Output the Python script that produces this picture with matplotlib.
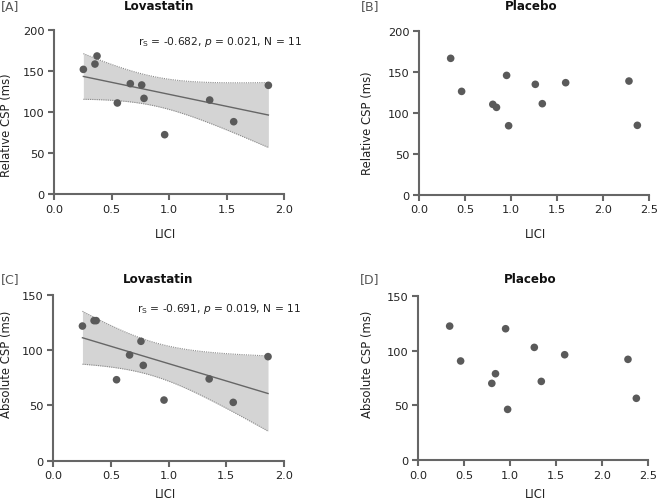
import numpy as np
import matplotlib
matplotlib.use("Agg")
import matplotlib.pyplot as plt

# -------------------------------
# Data
# -------------------------------

lova_lici = [0.253, 0.354, 0.372, 0.549, 0.662, 0.761, 0.781, 0.961, 1.353, 1.562, 1.864]
lova_rel_csp = [151.7, 158.2, 168.0, 110.8, 134.3, 132.7, 116.4, 72.2, 114.4, 88.0, 132.3]
lova_abs_csp = [121.9, 126.8, 126.8, 73.3, 95.7, 108.1, 86.3, 54.9, 74.0, 52.8, 94.2]

plac_lici = [0.341, 0.460, 0.799, 0.839, 0.949, 0.971, 1.261, 1.337, 1.591, 2.279, 2.370]
plac_rel_csp = [166.3, 126.0, 110.2, 106.5, 145.5, 84.1, 134.6, 111.0, 136.6, 138.6, 84.6]
plac_abs_csp = [122.3, 90.5, 70.1, 78.9, 119.9, 46.4, 102.9, 71.9, 96.2, 92.0, 56.5]

stats_rel = "r$_\\mathrm{S}$ = -0.682, $\\it{p}$ = 0.021, N = 11"
stats_abs = "r$_\\mathrm{S}$ = -0.691, $\\it{p}$ = 0.019, N = 11"

GREY = "#5a5a5a"
SPINE = "#666666"
TXT = "#222222"
T_975_DF9 = 2.262  # t critical value, 95% CI, n-2 = 9

plt.rcParams["font.family"] = ["DejaVu Sans"]
plt.rcParams["mathtext.fontset"] = "dejavusans"

fig = plt.figure(figsize=(6.6, 5.02), dpi=100)
W, H = 660.0, 502.0


def make_axes(x0, x1, ytop, ybot):
    return fig.add_axes([x0 / W, 1 - ybot / H, (x1 - x0) / W, (ybot - ytop) / H])


def ftext(x, y, s, **kw):
    return fig.text(x / W, 1 - y / H, s, **kw)


def style(ax, xmax, ymax, ystep):
    ax.set_xlim(0, xmax)
    ax.set_ylim(0, ymax)
    xt = np.arange(0, xmax + 0.01, 0.5)
    ax.set_xticks(xt)
    ax.set_xticklabels([f"{v:.1f}" for v in xt])
    ax.set_yticks(np.arange(0, ymax + 1, ystep))
    for s in ["top", "right"]:
        ax.spines[s].set_visible(False)
    for s in ["left", "bottom"]:
        ax.spines[s].set_color(SPINE)
        ax.spines[s].set_linewidth(1.5)
    ax.tick_params(colors=SPINE, labelcolor=TXT, width=1.5, length=4, labelsize=8.2, pad=3)
    ax.patch.set_alpha(0)


def fit_band(ax, x, y):
    x = np.array(x)
    y = np.array(y)
    n = len(x)
    b, a = np.polyfit(x, y, 1)
    xs = np.linspace(x.min(), x.max(), 100)
    yhat = a + b * xs
    resid = y - (a + b * x)
    s = np.sqrt(np.sum(resid ** 2) / (n - 2))
    se = s * np.sqrt(1 / n + (xs - x.mean()) ** 2 / np.sum((x - x.mean()) ** 2))
    lo = yhat - T_975_DF9 * se
    hi = yhat + T_975_DF9 * se
    ax.fill_between(xs, lo, hi, color="#d4d4d4", lw=0, zorder=1)
    ax.plot(xs, lo, color="#8a8a8a", lw=0.8, ls=(0, (1, 1)), zorder=2)
    ax.plot(xs, hi, color="#8a8a8a", lw=0.8, ls=(0, (1, 1)), zorder=2)
    ax.plot(xs, yhat, color="#666666", lw=1.0, zorder=3)


def dots(ax, x, y):
    ax.scatter(x, y, s=30, color=GREY, edgecolors="none", zorder=4, clip_on=False)


# -------------------------------
# Panels
# -------------------------------

axA = make_axes(54.3, 284, 30.7, 195)
fit_band(axA, lova_lici, lova_rel_csp)
dots(axA, lova_lici, lova_rel_csp)
style(axA, 2.0, 200, 50)

axB = make_axes(419.3, 649.3, 31.7, 195.7)
dots(axB, plac_lici, plac_rel_csp)
style(axB, 2.5, 200, 50)

axC = make_axes(53.3, 283.7, 296, 461.7)
fit_band(axC, lova_lici, lova_abs_csp)
dots(axC, lova_lici, lova_abs_csp)
style(axC, 2.0, 150, 50)

axD = make_axes(418.3, 648.3, 296.7, 461.3)
dots(axD, plac_lici, plac_abs_csp)
style(axD, 2.5, 150, 50)

# axis labels
lab = dict(fontsize=8.4, color=TXT, ha="center", va="center")
ftext(7, 125, "Relative CSP (ms)", rotation=90, **lab)
ftext(368, 123, "Relative CSP (ms)", rotation=90, **lab)
ftext(7, 364, "Absolute CSP (ms)", rotation=90, **lab)
ftext(368, 364, "Absolute CSP (ms)", rotation=90, **lab)
ftext(166, 235, "LICI", **lab)
ftext(535, 235, "LICI", **lab)
ftext(166, 495, "LICI", **lab)
ftext(535, 495, "LICI", **lab)

# stats text
ftext(220, 42, stats_rel, ha="center", va="center", fontsize=7.7, color=TXT)
ftext(219, 309, stats_abs, ha="center", va="center", fontsize=7.7, color=TXT)

# titles and panel letters
for x, y, t in [(159, 7, "Lovastatin"), (531, 7, "Placebo"), (158, 280, "Lovastatin"), (530, 280, "Placebo")]:
    ftext(x, y, t, ha="center", va="center", fontsize=8.6, fontweight="bold", color="#111111")

for x, y, t in [(1, 7, "[A]"), (361, 7, "[B]"), (1, 280, "[C]"), (360, 280, "[D]")]:
    ftext(x, y, t, ha="left", va="center", fontsize=9, color="#555555")

plt.savefig("out.png", dpi=100)
